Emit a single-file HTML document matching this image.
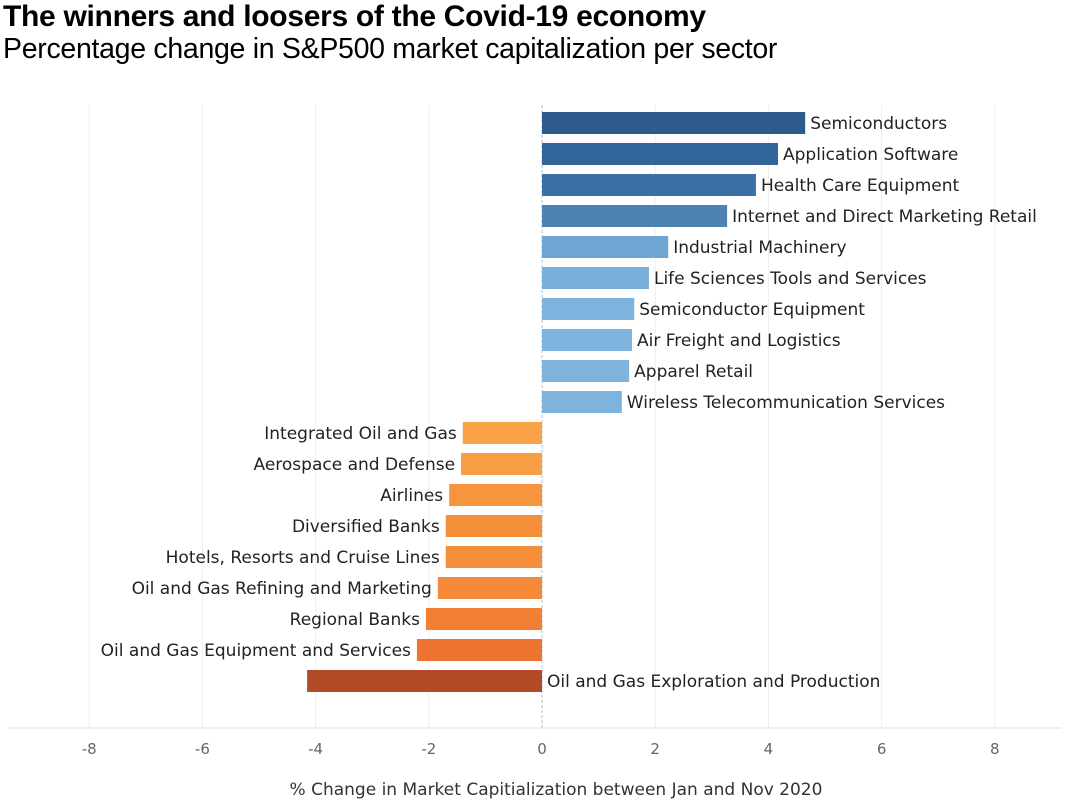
<!DOCTYPE html>
<html><head><meta charset="utf-8">
<style>
body{margin:0;background:#fff;width:1065px;height:806px;overflow:hidden;font-family:"Liberation Sans",sans-serif}
#title{position:absolute;left:3px;top:0px;font-size:30px;font-weight:bold;color:#000;letter-spacing:-0.3px}
#sub{position:absolute;left:3px;top:33px;font-size:28.5px;color:#000;letter-spacing:-0.3px}
svg{position:absolute;left:0;top:0}
</style></head><body>
<div id="title">The winners and loosers of the Covid-19 economy</div>
<div id="sub">Percentage change in S&amp;P500 market capitalization per sector</div>
<svg id="c" width="1065" height="806"></svg>
<script>
const categories=["Semiconductors","Application Software","Health Care Equipment","Internet and Direct Marketing Retail","Industrial Machinery","Life Sciences Tools and Services","Semiconductor Equipment","Air Freight and Logistics","Apparel Retail","Wireless Telecommunication Services","Integrated Oil and Gas","Aerospace and Defense","Airlines","Diversified Banks","Hotels, Resorts and Cruise Lines","Oil and Gas Refining and Marketing","Regional Banks","Oil and Gas Equipment and Services","Oil and Gas Exploration and Production"];
const values=[4.65,4.17,3.78,3.27,2.23,1.89,1.63,1.59,1.54,1.41,-1.40,-1.43,-1.64,-1.70,-1.70,-1.84,-2.05,-2.21,-4.15];
const ticks=[-8,-6,-4,-2,0,2,4,6,8];
const colors=["#2d5b8b","#32659a","#3a70a5","#4d82b3","#6fa5d2","#79b0da","#7db3dc","#7db3dc","#7db3dc","#7db3dc","#f9a24a","#f89e46","#f79440","#f68f3c","#f68f3c","#f4893a","#f28034","#ec7430","#b24a26"];
const NS="http://www.w3.org/2000/svg",svg=document.getElementById('c');
const x=v=>542+v*56.6, y=i=>123+i*31;
function mk(t,a){const e=document.createElementNS(NS,t);for(const k in a)e.setAttribute(k,a[k]);svg.appendChild(e);return e;}
ticks.forEach(t=>{
 const g=mk('line',{x1:x(t),x2:x(t),y1:105,y2:728,stroke:t===0?'#bbb':'#eee','stroke-width':1,'stroke-dasharray':t===0?'3,2':''});
 
 
 const l=mk('text',{x:x(t),y:754,'text-anchor':'middle','font-size':15,fill:'#666','font-family':'DejaVu Sans, sans-serif'});
 l.textContent=t;
 
 
});
const ax=mk('line',{x1:8,x2:1062,y1:728,y2:728,stroke:'#ddd'});


categories.forEach((c,i)=>{
 const v=values[i];
 const r=mk('rect',{x:Math.min(x(0),x(v)),y:y(i)-11,width:Math.abs(x(v)-x(0)),height:22,fill:colors[i]});
 
 
 const last=i===categories.length-1;
 const pos=v>=0||last;
 const t=mk('text',{x:pos?x(v>=0?v:0)+5:x(v)-6,y:y(i)+6,'text-anchor':pos?'start':'end','font-size':17,fill:'#222','font-family':'DejaVu Sans, sans-serif'});
 t.textContent=c;
 
 
});
const xt=mk('text',{x:556,y:795,'text-anchor':'middle','font-size':17,fill:'#333','font-family':'DejaVu Sans, sans-serif'});
xt.textContent="% Change in Market Capitialization between Jan and Nov 2020";


</script>
</body></html>
